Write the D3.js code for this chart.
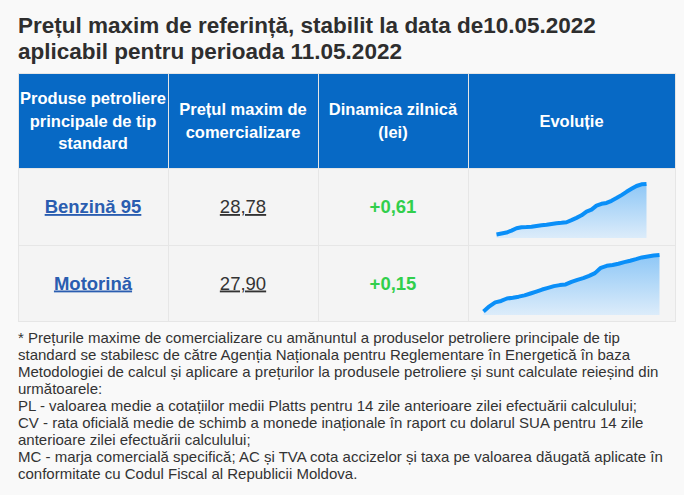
<!DOCTYPE html>
<html>
<head>
<meta charset="utf-8">
<script src="https://cdn.jsdelivr.net/npm/d3@7"></script>
<style>
  html, body { margin: 0; padding: 0; background: #f9f9f9; }
  svg { display: block; }
</style>
</head>
<body>
<div id="chart"></div>
<script>
// date din tabel
const titleLines = [
    "Prețul maxim de referință, stabilit la data de10.05.2022",
    "aplicabil pentru perioada 11.05.2022"
];
const headerLabels = [
    ["Produse petroliere", "principale de tip", "standard"],
    ["Prețul maxim de", "comercializare"],
    ["Dinamica zilnică", "(lei)"],
    ["Evoluție"]
];
const products = ["Benzină 95", "Motorină"];
const maxPrices = ["28,78", "27,90"];
const dailyChange = ["+0,61", "+0,15"];

// evolutia pretului
const benzinaTrend = [25.23, 25.30, 25.37, 25.50, 25.67, 25.74, 25.75, 25.77, 25.83, 25.88,
    25.92, 25.97, 26.02, 26.05, 26.09, 26.24, 26.40, 26.58, 26.84, 26.98,
    27.26, 27.39, 27.45, 27.60, 27.79, 28.00, 28.23, 28.44, 28.64, 28.76, 28.78];
const motorinaTrend = [23.94, 24.30, 24.58, 24.68, 24.85, 24.91, 24.98, 25.07, 25.20, 25.34,
    25.48, 25.60, 25.72, 25.79, 25.84, 26.02, 26.16, 26.28, 26.44, 26.63,
    27.00, 27.14, 27.20, 27.29, 27.40, 27.50, 27.61, 27.73, 27.80, 27.87, 27.90];
const trends = [benzinaTrend, motorinaTrend];

const footnoteLines = [
    "* Prețurile maxime de comercializare cu amănuntul a produselor petroliere principale de tip",
    "standard se stabilesc de către Agenția Naționala pentru Reglementare în Energetică în baza",
    "Metodologiei de calcul și aplicare a prețurilor la produsele petroliere și sunt calculate reieșind din",
    "următoarele:",
    "PL - valoarea medie a cotațiilor medii Platts pentru 14 zile anterioare zilei efectuării calculului;",
    "CV - rata oficială medie de schimb a monede inaționale în raport cu dolarul SUA pentru 14 zile",
    "anterioare zilei efectuării calculului;",
    "MC - marja comercială specifică; AC și TVA cota accizelor și taxa pe valoarea dăugată aplicate în",
    "conformitate cu Codul Fiscal al Republicii Moldova."
];

const width = 684, height = 495;
const font = "'Liberation Sans', Arial, sans-serif";
const colX = [18, 168, 318, 468, 675];
const rowY = [73, 168, 245, 321];
const sparkSize = [{ w: 150, h: 56, dy: 3.5 }, { w: 176, h: 62, dy: 1 }];

const svg = d3.select("#chart").append("svg")
    .attr("width", width)
    .attr("height", height);

svg.append("rect").attr("width", width).attr("height", height).attr("fill", "#f9f9f9");

const defs = svg.append("defs");
const grad = defs.append("linearGradient")
    .attr("id", "sparkFill")
    .attr("x1", 0).attr("y1", 0).attr("x2", 0).attr("y2", 1);
grad.append("stop").attr("offset", "0%").attr("stop-color", "#8ec7f6");
grad.append("stop").attr("offset", "100%").attr("stop-color", "#dcecfa");

// titlu
svg.append("g")
    .selectAll("text")
    .data(titleLines)
    .enter()
    .append("text")
    .attr("x", 18)
    .attr("y", (d, i) => 32.5 + i * 26.5)
    .style("font-family", font)
    .style("font-weight", "bold")
    .style("font-size", "22.5px")
    .attr("fill", "#2e2e2e")
    .text(d => d);

// fundal tabel
svg.append("rect")
    .attr("x", colX[0]).attr("y", rowY[0])
    .attr("width", colX[4] - colX[0]).attr("height", rowY[1] - rowY[0])
    .attr("fill", "#0769c5");
svg.append("rect")
    .attr("x", colX[0]).attr("y", rowY[1])
    .attr("width", colX[4] - colX[0]).attr("height", rowY[3] - rowY[1])
    .attr("fill", "#f4f4f4");

// linii grila
const grid = svg.append("g").attr("stroke", "#e6e6e6").attr("stroke-width", 1);
grid.selectAll("line.v")
    .data(colX)
    .enter()
    .append("line")
    .attr("x1", d => d + 0.5).attr("x2", d => d + 0.5)
    .attr("y1", rowY[0]).attr("y2", rowY[3]);
grid.selectAll("line.h")
    .data(rowY)
    .enter()
    .append("line")
    .attr("x1", colX[0]).attr("x2", colX[4] + 1)
    .attr("y1", d => d + 0.5).attr("y2", d => d + 0.5);

// antet
const headCenter = (rowY[0] + rowY[1]) / 2;
headerLabels.forEach((lines, c) => {
    const cx = (colX[c] + colX[c + 1]) / 2;
    svg.append("g")
        .selectAll("text")
        .data(lines)
        .enter()
        .append("text")
        .attr("x", cx)
        .attr("y", (d, i) => headCenter + 6 + (i - (lines.length - 1) / 2) * 22.5)
        .attr("text-anchor", "middle")
        .style("font-family", font)
        .style("font-weight", "bold")
        .style("font-size", "16.5px")
        .attr("fill", "#fff")
        .text(d => d);
});

// randuri
products.forEach((name, r) => {
    const cy = (rowY[r + 1] + rowY[r + 2]) / 2;
    const cells = [
        { text: name, color: "#2a5db0", weight: "bold", underline: true },
        { text: maxPrices[r], color: "#333", weight: "normal", underline: true },
        { text: dailyChange[r], color: "#31cf4c", weight: "bold", underline: false }
    ];
    cells.forEach((cell, c) => {
        svg.append("text")
            .attr("x", (colX[c] + colX[c + 1]) / 2)
            .attr("y", cy + 6.5)
            .attr("text-anchor", "middle")
            .style("font-family", font)
            .style("font-weight", cell.weight)
            .style("font-size", "18.5px")
            .style("text-decoration", cell.underline ? "underline" : "none")
            .attr("fill", cell.color)
            .text(cell.text);
    });

    // grafic evolutie
    const data = trends[r];
    const size = sparkSize[r];
    const sx = (colX[3] + colX[4]) / 2 - size.w / 2;
    const sy = cy - size.h / 2 + size.dy;

    const x = d3.scaleLinear().domain([0, data.length - 1]).range([0, size.w]);
    const y = d3.scaleLinear().domain(d3.extent(data)).range([size.h - 3.5, 2]);

    const g = svg.append("g").attr("transform", `translate(${sx},${sy})`);
    g.append("path")
        .datum(data)
        .attr("fill", "url(#sparkFill)")
        .attr("d", d3.area()
            .x((d, i) => x(i))
            .y0(size.h)
            .y1(d => y(d)));
    g.append("path")
        .datum(data)
        .attr("fill", "none")
        .attr("stroke", "#0a8ff8")
        .attr("stroke-width", 4)
        .attr("stroke-linejoin", "round")
        .attr("d", d3.line()
            .x((d, i) => x(i))
            .y(d => y(d)));
});

// nota de subsol
svg.append("g")
    .selectAll("text")
    .data(footnoteLines)
    .enter()
    .append("text")
    .attr("x", 18)
    .attr("y", (d, i) => 342.5 + i * 17)
    .style("font-family", font)
    .style("font-size", "15px")
    .attr("fill", "#333")
    .text(d => d);
</script>
</body>
</html>
